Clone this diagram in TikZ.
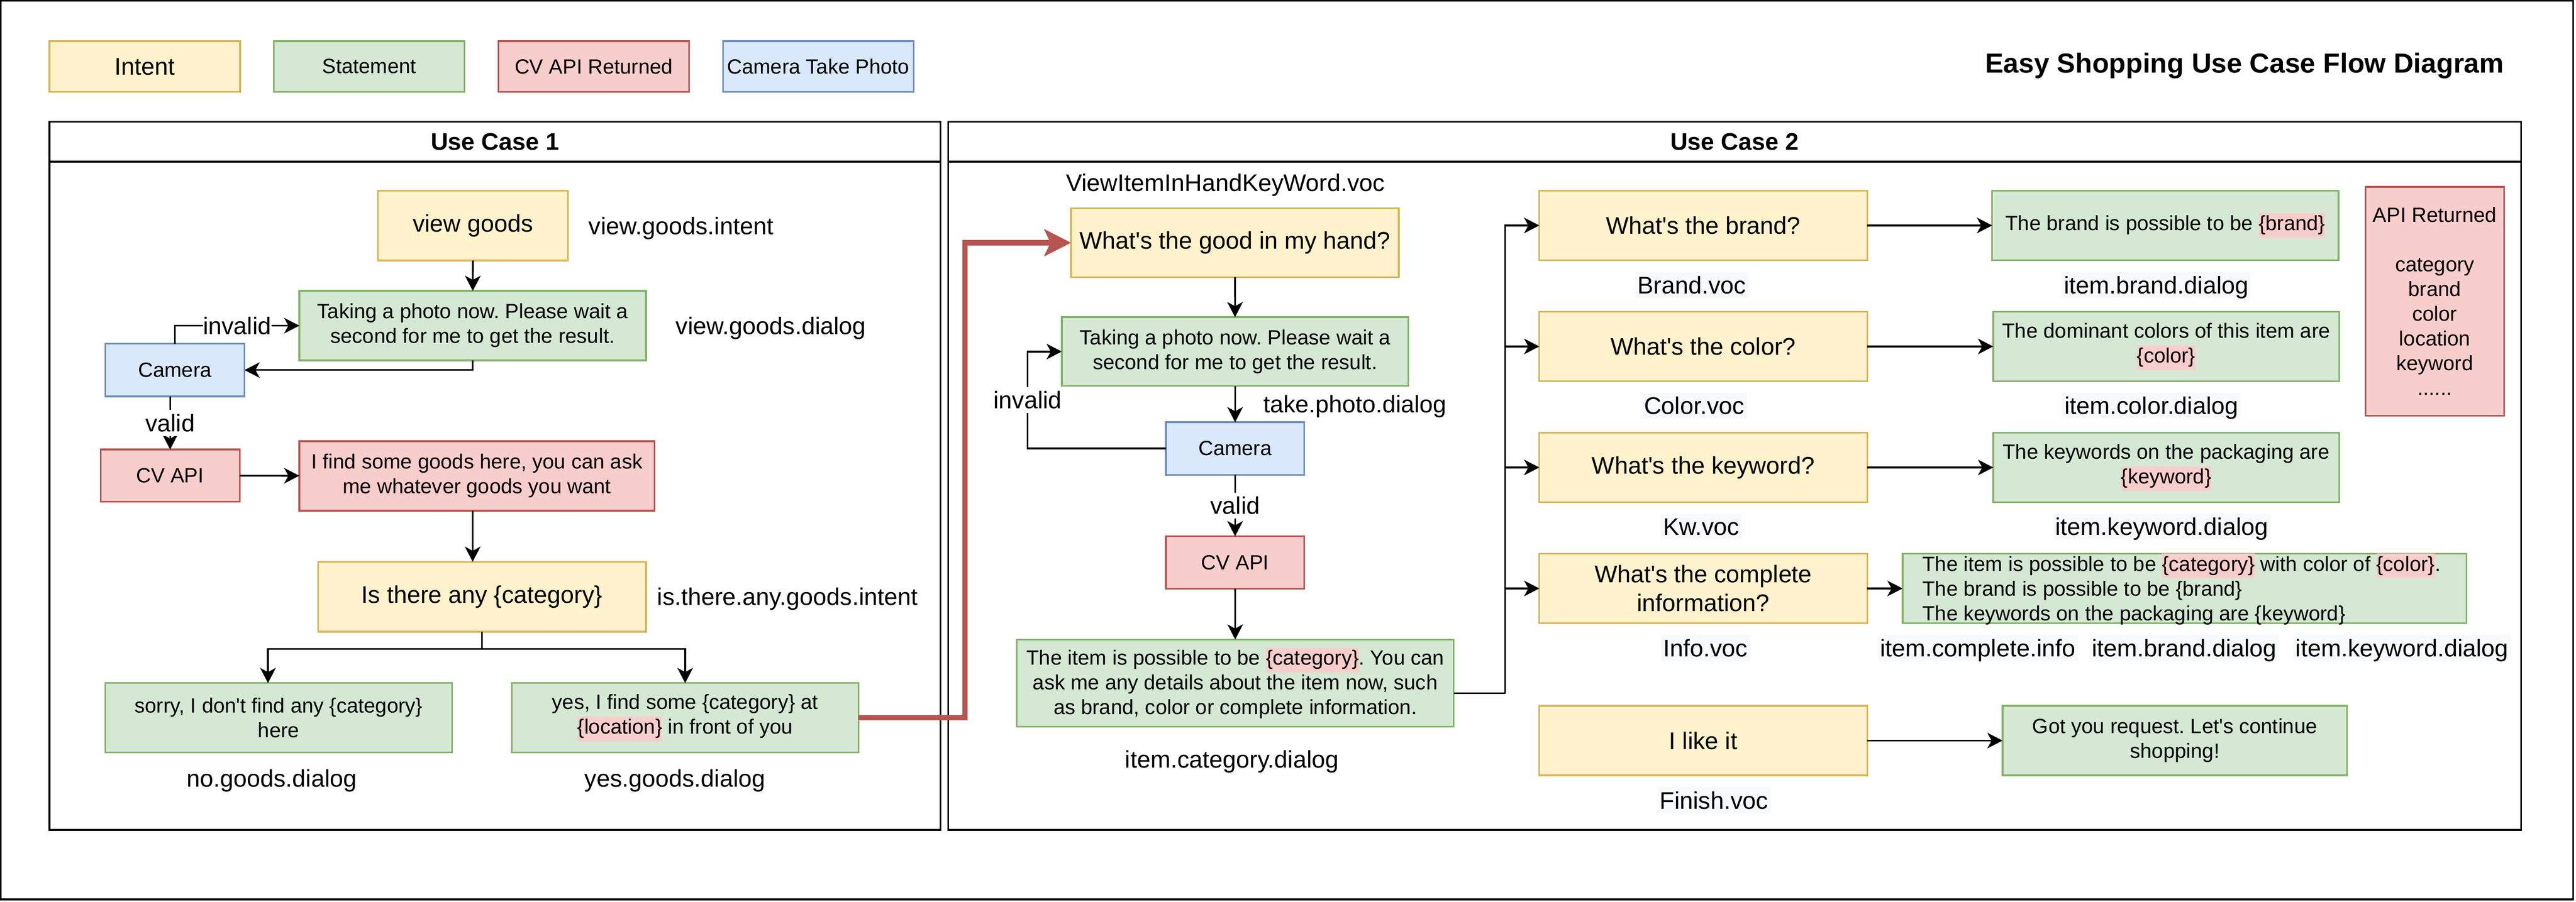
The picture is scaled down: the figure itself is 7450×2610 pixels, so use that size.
\documentclass[tikz,border=0pt]{standalone}
\usepackage{fontspec}
\setmainfont{Liberation Sans}
\usepackage{tikz}
\usetikzlibrary{positioning}
\usetikzlibrary{calc}
\usetikzlibrary{arrows.meta}
\frenchspacing

\definecolor{intentfill}{HTML}{FFF2CC}
\definecolor{intentline}{HTML}{D6B656}
\definecolor{stmtfill}{HTML}{D5E8D4}
\definecolor{stmtline}{HTML}{82B366}
\definecolor{apifill}{HTML}{F8CECC}
\definecolor{apiline}{HTML}{B85450}
\definecolor{camfill}{HTML}{DAE8FC}
\definecolor{camline}{HTML}{6C8EBF}
\definecolor{lblfill}{HTML}{F8F9FA}

\newcommand{\smalltxt}{\fontsize{16.96pt}{20.35pt}\selectfont}
\newcommand{\bigtxt}{\fontsize{19.8pt}{23.76pt}\selectfont}
\newcommand{\titletxt}{\fontsize{22.65pt}{27.2pt}\selectfont\bfseries}
\newcommand{\hlt}[1]{{\setlength{\fboxsep}{0pt}\colorbox{apifill}{\strut #1}}}
\newcommand{\apos}{\textquotesingle}

\tikzset{
flowbox/.style={
  draw,
  line width=1.42pt,
  inner sep=0pt,
  outer sep=0pt,
  align=center,
  font=\smalltxt
  },
ibox/.style={flowbox, fill=intentfill, draw=intentline, font=\bigtxt},
sbox/.style={flowbox, fill=stmtfill, draw=stmtline},
rbox/.style={flowbox, fill=apifill, draw=apiline},
cbox/.style={flowbox, fill=camfill, draw=camline},
lbl/.style={inner sep=0pt, font=\bigtxt, text height=17.8pt, text depth=3.6pt},
vlbl/.style={lbl, fill=lblfill, inner xsep=2pt},
pool/.style={draw, line width=1.42pt},
redflow/.style={draw=apiline, line width=4.27pt, -{Stealth[length=22pt,width=22pt,inset=5pt]}}
}

\begin{document}
\begin{tikzpicture}[x=0.01cm,y=-0.01cm,line width=1.42pt,>={Stealth[length=12.5pt,width=12.8pt,inset=3.5pt]}]
    \useasboundingbox (0,0) rectangle (7450,2610);
    \draw (2.5,2.5) rectangle (7442,2603);

    % legend and title
    \node[ibox, minimum width=5.51cm, minimum height=1.47cm] (lgIntent) at (418.5,192.5) {Intent};
    \node[sbox, minimum width=5.51cm, minimum height=1.47cm] (lgStmt) [right=0.98cm of lgIntent] {Statement};
    \node[rbox, minimum width=5.51cm, minimum height=1.47cm] (lgApi) [right=0.98cm of lgStmt] {CV API Returned};
    \node[cbox, minimum width=5.51cm, minimum height=1.47cm] (lgCam) [right=0.98cm of lgApi] {Camera Take Photo};
    \node[font=\titletxt, anchor=east, inner sep=0pt] (title) at (7244,191) {Easy Shopping Use Case Flow Diagram};

    % pools
    \draw[pool] (143,352) rectangle (2720,2402);
    \draw[pool] (143,468) -- (2720,468);
    \node[font=\bigtxt\bfseries] (uc1) at (1431.5,410) {Use Case 1};
    \draw[pool] (2742,352) rectangle (7291,2402);
    \draw[pool] (2742,468) -- (7291,468);
    \node[font=\bigtxt\bfseries] (uc2) at (5016.5,410) {Use Case 2};

    % use case 1
    \node[ibox, minimum width=5.5cm, minimum height=2.02cm] (viewG) at (1368,653) {view goods};
    \node[lbl, right=0.57cm of viewG] (viewGi) {view.goods.intent};
    \node[sbox, minimum width=10.02cm, minimum height=2.01cm] (takeA) at (1367,942.5) {Taking a photo now. Please wait a\\second for me to get the result.};
    \node[lbl, right=0.84cm of takeA] (takeAd) {view.goods.dialog};
    \node[cbox, minimum width=4.02cm, minimum height=1.52cm] (camA) at (506,1071) {Camera};
    \node[rbox, minimum width=4.02cm, minimum height=1.51cm] (cvA) at (492,1376.5) {CV API};
    \node[rbox, minimum width=10.27cm, minimum height=2.01cm] (findA) at (1379.5,1377.5) {I find some goods here, you can ask\\me whatever goods you want};
    \node[ibox, minimum width=9.48cm, minimum height=2.02cm] (anyA) at (1394,1727) {Is there any \{category\}};
    \node[lbl, right=0.3cm of anyA] (anyAi) {is.there.any.goods.intent};
    \node[sbox, minimum width=10.02cm, minimum height=2.01cm] (noA) at (806,2077.5) {sorry, I don\apos t find any \{category\}\\here};
    \node[sbox, minimum width=10.02cm, minimum height=2.01cm] (yesA) at (1981.5,2077.5) {yes, I find some \{category\} at\\\hlt{\{location\}} in front of you};
    \node[lbl] (noAd) at (786,2253) {no.goods.dialog};
    \node[lbl] (yesAd) at (1952,2253) {yes.goods.dialog};

    \path[->]
    (viewG) edge (takeA)
    (cvA) edge (findA)
    ;
    \draw[->] (takeA.south) |- (camA.east);
    \draw[->] (camA.north) |- node[lbl, fill=white, pos=0.75] {invalid} (takeA.west);
    \draw[->] (camA.south -| cvA.north) -- node[lbl, fill=white] {valid} (cvA.north);
    \draw[->] (findA.south -| takeA.south) -- (anyA.north -| takeA.south);
    \coordinate (splitA) at ($(anyA.south)+(0,50)$);
    \draw[->] (anyA.south) -- (splitA) -| ($(noA.north)+(-31,0)$);
    \draw[->] (splitA) -| (yesA.north);

    % use case 2
    \node[lbl] (vocB) at (3544,528) {ViewItemInHandKeyWord.voc};
    \node[ibox, minimum width=9.47cm, minimum height=1.99cm] (whatB) at (3571.5,702.5) {What\apos s the good in my hand?};
    \node[sbox, minimum width=10.02cm, minimum height=1.99cm] (takeB) at (3572,1017.5) {Taking a photo now. Please wait a\\second for me to get the result.};
    \node[lbl, anchor=west] (takeBd) at (3651,1170) {take.photo.dialog};
    \node[cbox, minimum width=4cm, minimum height=1.52cm] (camB) at (3572,1298) {Camera};
    \node[rbox, minimum width=4cm, minimum height=1.52cm] (cvB) at (3572,1628) {CV API};
    \node[sbox, minimum width=12.63cm, minimum height=2.52cm] (catB) at (3572.5,1977) {The item is possible to be \hlt{\{category\}}. You can\\ask me any details about the item now, such\\as brand, color or complete information.};
    \node[lbl] (catBd) at (3563,2197) {item.category.dialog};

    \draw[redflow] (yesA.east) -- ++(308,0) |- (whatB.west);

    \path[->]
    (whatB) edge (takeB)
    (takeB) edge (camB)
    (camB) edge node[lbl, fill=white] {valid} (cvB)
    (cvB) edge (catB)
    ;
    \draw[->] (camB.west) -- ++(-400,0) |- node[lbl, fill=white, pos=0.25] {invalid} (takeB.west);

    \node[ibox, minimum width=9.48cm, minimum height=2.01cm] (brandQ) at (4926,652.5) {What\apos s the brand?};
    \node[ibox, minimum width=9.48cm, minimum height=2.01cm] (colorQ) [below=1.49cm of brandQ] {What\apos s the color?};
    \node[ibox, minimum width=9.48cm, minimum height=2.01cm] (kwQ) [below=1.49cm of colorQ] {What\apos s the keyword?};
    \node[ibox, minimum width=9.48cm, minimum height=2.01cm] (infoQ) [below=1.49cm of kwQ] {What\apos s the complete\\information?};
    \node[ibox, minimum width=9.48cm, minimum height=2.01cm] (likeQ) [below=2.39cm of infoQ] {I like it};
    \node[vlbl] (brandV) at (4893,825) {Brand.voc};
    \node[vlbl] (colorV) at (4900,1174) {Color.voc};
    \node[vlbl] (kwV) at (4920,1524) {Kw.voc};
    \node[vlbl] (infoV) at (4932,1875) {Info.voc};
    \node[vlbl] (likeV) at (4957,2316) {Finish.voc};

    \node[sbox, minimum width=10.01cm, minimum height=2.01cm] (brandA) [right=3.61cm of brandQ] {The brand is possible to be \hlt{\{brand\}}};
    \node[sbox, minimum width=10cm, minimum height=2.01cm] (colorA) [right=3.64cm of colorQ] {The dominant colors of this item are\\\hlt{\{color\}}};
    \node[sbox, minimum width=10cm, minimum height=2.01cm] (kwA) [right=3.64cm of kwQ] {The keywords on the packaging are\\\hlt{\{keyword\}}};
    \node[sbox, minimum width=16.3cm, minimum height=2.01cm] (infoA) [right=1.02cm of infoQ] {};
    \node[font=\smalltxt, align=left, anchor=west, inner sep=0pt] (infoT) at ($(infoA.west)+(55,2)$) {The item is possible to be \hlt{\{category\}} with color of \hlt{\{color\}}.\\The brand is possible to be \{brand\}\\The keywords on the packaging are \{keyword\}};
    \node[sbox, minimum width=9.96cm, minimum height=2.01cm] (gotA) [right=3.91cm of likeQ] {Got you request. Let\apos s continue\\shopping!};
    \node[vlbl] (brandD) at (6236,825) {item.brand.dialog};
    \node[vlbl] (colorD) at (6222,1174) {item.color.dialog};
    \node[vlbl] (kwD) at (6252,1524) {item.keyword.dialog};
    \node[vlbl] (infoD1) at (5720,1875) {item.complete.info};
    \node[vlbl] (infoD2) at (6317,1875) {item.brand.dialog};
    \node[vlbl] (infoD3) at (6947,1875) {item.keyword.dialog};

    \node[rbox, minimum width=4.01cm, minimum height=6.62cm] (apiR) at (7041.5,872) {API Returned\\[20.35pt]category\\brand\\color\\location\\keyword\\......};

    \coordinate (bus) at (4353,2006);
    \draw ($(catB.east)+(0,29)$) -- (bus);
    \foreach \q in {brandQ,colorQ,kwQ,infoQ}
        \draw[->] (bus) |- (\q.west);
    \path[->]
    (brandQ) edge (brandA)
    (colorQ) edge (colorA)
    (kwQ) edge (kwA)
    (infoQ) edge (infoA)
    (likeQ) edge (gotA)
    ;
\end{tikzpicture}
\end{document}
